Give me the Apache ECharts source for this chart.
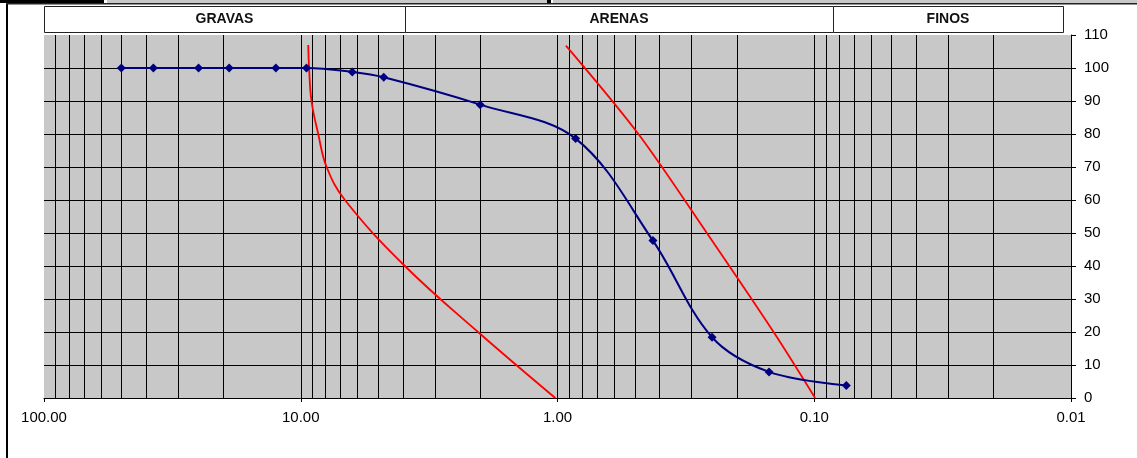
<!DOCTYPE html>
<html>
<head>
<meta charset="utf-8">
<script src="https://cdn.jsdelivr.net/npm/echarts@6/dist/echarts.min.js"></script>
<style>
html,body{margin:0;padding:0;background:#fff;}
#chart{width:1137px;height:458px;}
</style>
</head>
<body>
<div id="chart"></div>
<script>
// Sieve analysis (particle size in mm vs % passing)
const sieveSizes = [50, 37.5, 25, 19, 12.5, 9.5, 6.3, 4.75, 2.0, 0.85, 0.425, 0.25, 0.15, 0.075];
const percentPassing = [100, 100, 100, 100, 100, 100, 98.8, 97.2, 88.9, 78.6, 47.7, 18.4, 7.9, 3.8];

// Red limit curve 1 (coarse)
const limit1Sizes = [9.35, 9.28, 9.08, 8.55, 7.93, 6.73, 3.93, 2.04, 1.02];
const limit1Values = [107, 100, 90, 80, 70, 60, 40, 20, 0];

// Red limit curve 2 (fine)
const limit2Sizes = [0.927, 0.484, 0.262, 0.144, 0.0992];
const limit2Values = [106.8, 80, 50, 20, 0];

// Vertical log grid lines
const gridSizes = [90,80,70,60,50,40,30,20,10,9,8,7,6,5,4,3,2,1,0.9,0.8,0.7,0.6,0.5,0.4,0.3,0.2,0.1,0.09,0.08,0.07,0.06,0.05,0.04,0.03,0.02];

// Header bands
const bandNames = ['GRAVAS', 'ARENAS', 'FINOS'];

const zip = (a, b) => a.map((v, i) => [v, b[i]]);
const FONT = '"Liberation Sans", Arial, sans-serif';

const chart = echarts.init(document.getElementById('chart'), null, {renderer: 'canvas'});

const bandX = [44, 405, 833, 1063];
const graphic = [
  // frame remnants
  {type: 'rect', shape: {x: 6, y: 4, width: 2, height: 454}, style: {fill: '#000'}},
  {type: 'rect', shape: {x: 6, y: 3, width: 1131, height: 1.5}, style: {fill: '#222'}},
  {type: 'rect', shape: {x: 0, y: 0, width: 104, height: 3}, style: {fill: '#000'}},
  {type: 'rect', shape: {x: 107, y: 0, width: 440, height: 3}, style: {fill: '#c8c8c8'}},
  {type: 'rect', shape: {x: 547, y: 0, width: 4, height: 3}, style: {fill: '#000'}},
  {type: 'rect', shape: {x: 553, y: 0, width: 584, height: 3}, style: {fill: '#c8c8c8'}}
];
bandNames.forEach((name, i) => {
  const x0 = bandX[i], x1 = bandX[i + 1];
  graphic.push({
    type: 'rect', shape: {x: x0 + 0.5, y: 6.5, width: x1 - x0, height: 26},
    style: {fill: '#fff', stroke: '#222', lineWidth: 1}
  });
  graphic.push({
    type: 'text', x: (x0 + x1) / 2, y: 19.5,
    style: {text: name, font: 'bold 14px ' + FONT, fill: '#111', align: 'center', verticalAlign: 'middle'}
  });
});

const option = {
  animation: false,
  backgroundColor: '#fff',
  graphic: graphic,
  grid: {
    left: 44, right: 66, top: 35, bottom: 60,
    show: true, backgroundColor: '#c8c8c8', borderWidth: 0
  },
  xAxis: {
    type: 'log', logBase: 10, min: 0.01, max: 100, inverse: true,
    axisLine: {show: true, onZero: false, lineStyle: {color: '#000', width: 1}},
    axisTick: {show: true, length: 4, lineStyle: {color: '#000'}},
    axisLabel: {
      color: '#000', fontSize: 15, fontFamily: FONT, margin: 12,
      formatter: v => Number(v).toFixed(2)
    },
    splitLine: {show: false},
    minorTick: {show: false}
  },
  yAxis: {
    type: 'value', position: 'right', min: 0, max: 110, interval: 10,
    axisLine: {show: true, lineStyle: {color: '#000', width: 1}},
    axisTick: {show: true, length: 5, lineStyle: {color: '#000'}},
    axisLabel: {color: '#000', fontSize: 15, fontFamily: FONT, margin: 13},
    splitLine: {show: true, showMaxLine: false, showMinLine: false, lineStyle: {color: '#000', width: 1}}
  },
  series: [
    {
      type: 'line', name: 'lim1', z: 3,
      data: zip(limit1Sizes, limit1Values),
      smooth: 0.4, showSymbol: false, symbol: 'none',
      lineStyle: {color: '#ff0000', width: 1.8},
      markLine: {
        silent: true, z: 1, symbol: ['none', 'none'],
        label: {show: false},
        lineStyle: {color: '#000', width: 1, type: 'solid'},
        emphasis: {disabled: true},
        data: gridSizes.map(v => ({xAxis: v}))
      }
    },
    {
      type: 'line', name: 'lim2', z: 3,
      data: zip(limit2Sizes, limit2Values),
      smooth: 0.3, showSymbol: false, symbol: 'none',
      lineStyle: {color: '#ff0000', width: 1.8}
    },
    {
      type: 'line', name: 'granulometria', z: 4,
      data: zip(sieveSizes, percentPassing),
      smooth: 0.35,
      symbol: 'diamond', symbolSize: 9,
      itemStyle: {color: '#000080'},
      lineStyle: {color: '#000080', width: 2}
    }
  ]
};
chart.setOption(option);
</script>
</body>
</html>
